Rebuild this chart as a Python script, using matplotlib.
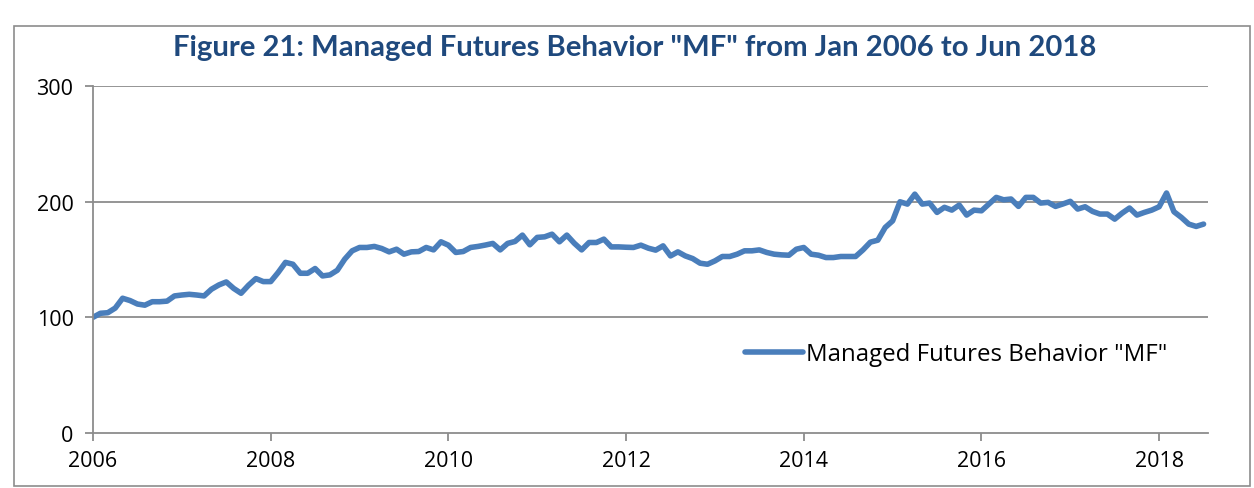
import matplotlib
matplotlib.use("Agg")
import matplotlib.pyplot as plt
from matplotlib.patches import Rectangle
import numpy as np

title = 'Figure 21: Managed Futures Behavior "MF" from Jan 2006 to Jun 2018'
series_name = 'Managed Futures Behavior "MF"'
start_year = 2006
mf_values = [
    100, 103.5, 104, 108, 116.5, 114.5, 111.5, 110.5, 113.5, 113.5,
    114, 118.5, 119.3, 119.9, 119.3, 118.5, 124.3, 128, 130.6, 125,
    120.8, 127.7, 133.5, 130.9, 130.9, 138.7, 147.5, 145.9, 138.1, 138.1,
    142.2, 135.8, 136.7, 140.7, 150.3, 157.5, 160.4, 160.4, 161.3, 159.5,
    156.6, 158.9, 154.6, 156.6, 156.9, 160.4, 158.3, 165.3, 162.4, 156.1,
    156.9, 160.4, 161.3, 162.5, 163.9, 158.3, 163.9, 165.6, 171.1, 162.7,
    169.1, 169.6, 171.9, 165.3, 171.1, 164.1, 158.3, 164.7, 164.7, 167.6,
    160.9, 160.9, 160.6, 160.4, 162.4, 159.8, 158.1, 161.8, 153.1, 156.6,
    153.1, 150.8, 146.8, 145.9, 148.8, 152.6, 152.6, 154.6, 157.5, 157.5,
    158.3, 156.1, 154.6, 154, 153.7, 158.9, 160.4, 154.6, 153.7, 151.7,
    151.7, 152.6, 152.6, 152.6, 158.3, 165, 166.7, 177.7, 183.4, 199.9,
    197.9, 206.5, 197.9, 198.8, 190.7, 195.1, 192.7, 197.1, 188.4, 192.7,
    192.1, 197.9, 203.7, 201.6, 202.3, 195.9, 203.7, 203.7, 198.8, 199.4,
    195.9, 198, 200.3, 193.6, 195.6, 191.6, 189.3, 189.3, 184.9, 190.1,
    194.5, 188.4, 190.7, 192.7, 195.6, 207.5, 191.3, 186.4, 180.6, 178.6,
    180.6,
]
x_ticks = [2006, 2008, 2010, 2012, 2014, 2016, 2018]
y_ticks = [0, 100, 200, 300]

months = np.arange(len(mf_values))
x = start_year + months / 12.0

fig = plt.figure(figsize=(12.54, 4.89), dpi=100)
fig.patch.set_facecolor("white")

# outer chart border
fig.patches.append(Rectangle((14/1254, 2/489), (1250-14)/1254, (489-27-2)/489,
                             transform=fig.transFigure, fill=False,
                             edgecolor="#8c8c8c", linewidth=1.2))

ax = fig.add_axes([93/1254, 1-434/489, (1208-93)/1254, (434-87)/489])
line_color = "#4A7EBB"
ax.plot(x, mf_values, color=line_color, linewidth=4.0, solid_joinstyle="round",
        solid_capstyle="round", label=series_name)

ax.set_xlim(2006, 2006 + 150.6/12)
ax.set_ylim(0, 300)
ax.set_xticks(x_ticks)
ax.set_xticklabels([str(t) for t in x_ticks])
ax.set_yticks(y_ticks)
ax.set_yticklabels([str(t) for t in y_ticks])

grid_c = "#8c8c8c"
for yv in y_ticks[1:]:
    ax.axhline(yv, color=grid_c, linewidth=1.3, zorder=0)
for s in ["top", "right"]:
    ax.spines[s].set_visible(False)
for s in ["left", "bottom"]:
    ax.spines[s].set_color(grid_c)
    ax.spines[s].set_linewidth(1.3)
ax.tick_params(axis="both", colors=grid_c, length=6, width=1.3, direction="out",
               labelcolor="black", labelsize=15.5)
ax.tick_params(axis="x", pad=6)
ax.tick_params(axis="y", pad=8)
for lab in ax.get_xticklabels() + ax.get_yticklabels():
    lab.set_fontfamily("Open Sans")

fig.text(635/1254, 1-48/489, title, ha="center", va="center", fontsize=21.1,
         fontweight="bold", color="#1F497D", family="Lato")

leg = ax.legend(loc="center left", bbox_to_anchor=((745-93)/(1208-93), (434-355)/(434-87)),
                frameon=False, fontsize=17.3, handlelength=2.4, handletextpad=0.15,
                borderaxespad=0, borderpad=0)
for t in leg.get_texts():
    t.set_fontfamily("Open Sans")

fig.savefig("out.png", dpi=100, facecolor="white")
